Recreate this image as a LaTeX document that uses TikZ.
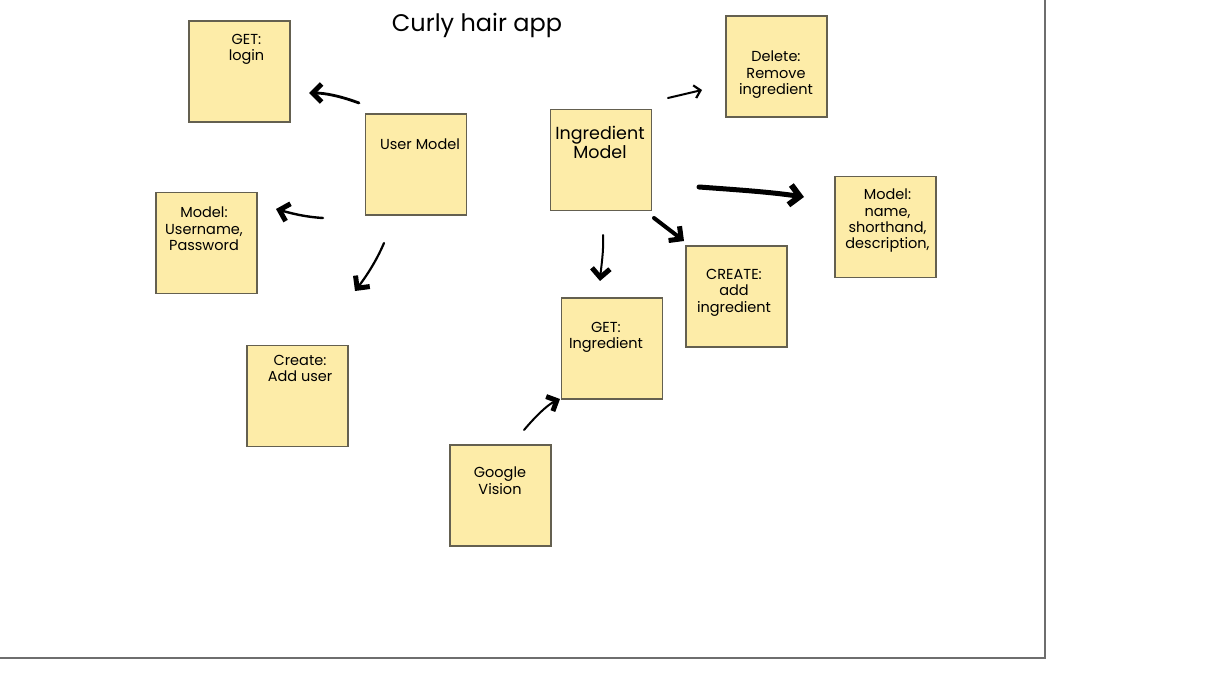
\documentclass[tikz,border=0pt]{standalone}
\usepackage{fontspec}
\setmainfont{Poppins}
\usetikzlibrary{arrows.meta}
\definecolor{sticky}{RGB}{253,236,168}
\definecolor{stickyedge}{RGB}{100,96,80}
\definecolor{framegrey}{RGB}{110,110,110}
\tikzset{
  box/.style={draw=stickyedge, line width=1.2pt, fill=sticky, minimum width=101pt, minimum height=101pt, inner sep=0pt},
  txt/.style={anchor=north, inner sep=0pt, align=center, font=\fontsize{14.5}{16.3}\selectfont},
  bigtxt/.style={anchor=north, inner sep=0pt, align=center, font=\fontsize{17.5}{19}\selectfont},
  hand/.style={line cap=round, line join=round, -{Straight Barb[length=9pt, width=18pt, line width=5pt]}},
}
\begin{document}
\begin{tikzpicture}[x=1pt, y=-1pt]
\useasboundingbox (0,0) rectangle (1216,695);
% frame
\draw[framegrey, line width=1.5pt] (1045,-2) -- (1045,658) -- (-2,658);
% title
\node[anchor=north, inner sep=0pt, font=\fontsize{24}{28}\selectfont] (title) at (477,13) {Curly hair app};
% boxes
\node[box] (getlogin) at (239.5,71.5) {};
\node[txt] (tgetlogin) at (246.5,34) {GET:\\login};
\node[box] (user) at (416,164.5) {};
\node[txt] (tuser) at (420,139) {User Model};
\node[box] (umodel) at (206.5,243) {};
\node[txt] (tumodel) at (204,207) {Model:\\Username,\\Password};
\node[box] (adduser) at (297.5,396) {};
\node[txt] (tadduser) at (300,355) {Create:\\Add user};
\node[box] (ingr) at (601,160) {};
\node[bigtxt] (tingr) at (600,126) {Ingredient\\Model};
\node[box] (del) at (776.5,66.5) {};
\node[txt] (tdel) at (776,51) {Delete:\\Remove\\ingredient};
\node[box] (imodel) at (885.5,227) {};
\node[txt] (timodel) at (887.5,189) {Model:\\name,\\shorthand,\\description,};
\node[box] (create) at (736.5,296.5) {};
\node[txt] (tcreate) at (734,269) {CREATE:\\add\\ingredient};
\node[box] (geting) at (612,348.5) {};
\node[txt] (tgeting) at (606,322) {GET:\\Ingredient};
\node[box] (google) at (500.5,495.5) {};
\node[txt] (tgoogle) at (500,467) {Google\\Vision};
% arrow end points
\coordinate (a1s) at (359,103); \coordinate (a1e) at (309,93);
\coordinate (a2s) at (323,218); \coordinate (a2e) at (276,209);
\coordinate (a3s) at (384,243); \coordinate (a3e) at (355,291);
\coordinate (a4s) at (668,98);  \coordinate (a4e) at (702,90);
\coordinate (a5s) at (699,187); \coordinate (a5e) at (804,197);
\coordinate (a6s) at (654,218); \coordinate (a6e) at (684,241);
\coordinate (a7s) at (603,235); \coordinate (a7e) at (600,281);
\coordinate (a8s) at (524,430); \coordinate (a8e) at (560,399);
% arrows
\draw[hand, line width=2.8pt] (a1s) .. controls (340,96) and (325,93) .. (a1e);
\draw[hand, line width=2.4pt] (a2s) .. controls (305,217) and (290,213) .. (a2e);
\draw[hand, line width=2.2pt] (a3s) .. controls (376,262) and (365,278) .. (a3e);
\draw[line cap=round, line join=round, line width=2pt, -{Straight Barb[length=6pt, width=13pt, line width=2.2pt]}] (a4s) -- (a4e);
\draw[line cap=round, line join=round, line width=5pt, -{Straight Barb[length=10pt, width=20pt, line width=6pt]}] (a5s) .. controls (740,190) and (770,192) .. (a5e);
\draw[hand, line width=4pt] (a6s) -- (a6e);
\draw[hand, line width=2pt] (a7s) .. controls (604,250) and (601,268) .. (a7e);
\draw[line cap=round, line join=round, line width=2pt, -{Straight Barb[length=8pt, width=16pt, line width=5pt]}] (a8s) .. controls (535,417) and (547,405) .. (a8e);
\end{tikzpicture}
\end{document}
